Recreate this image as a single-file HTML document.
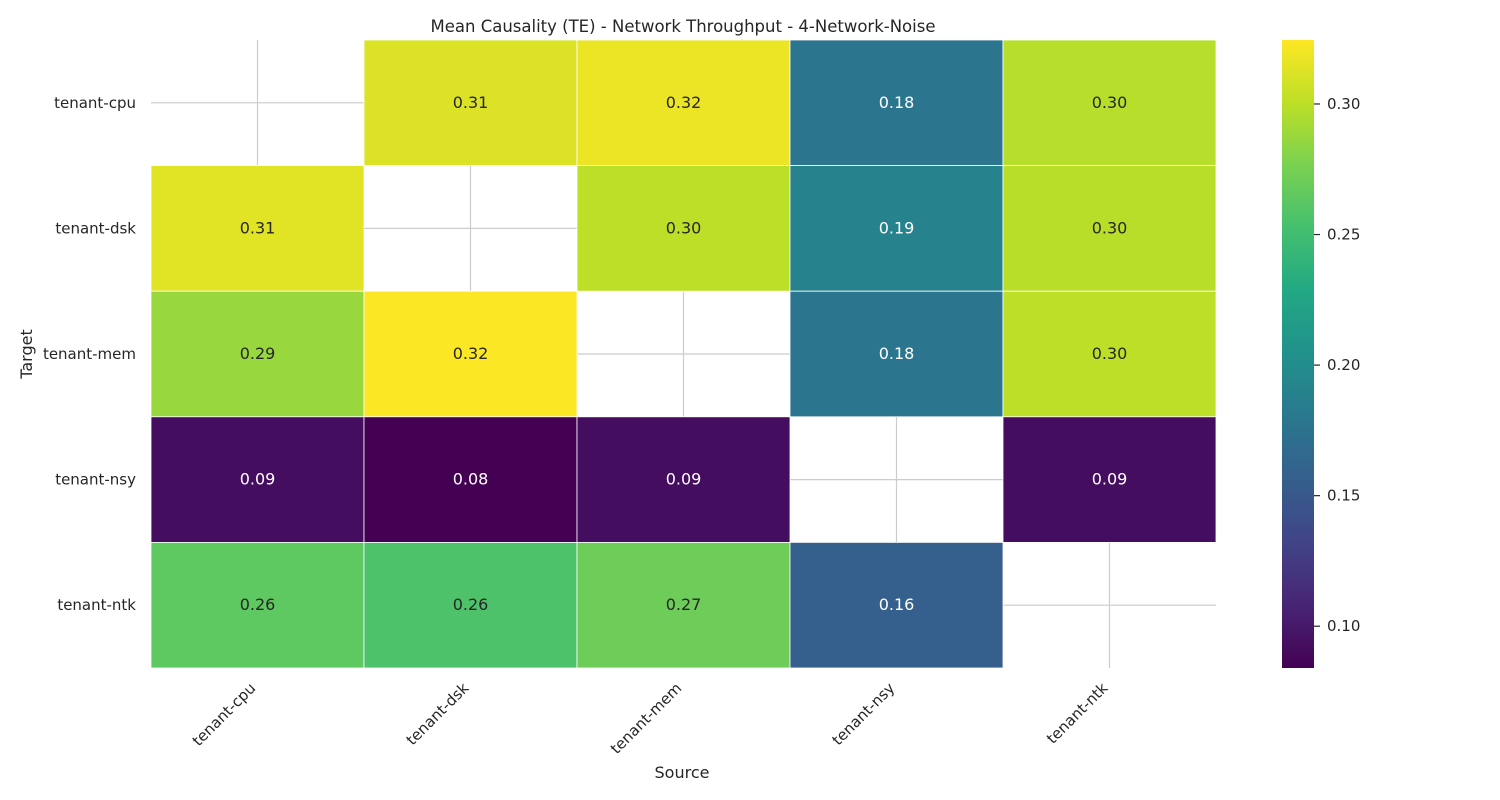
<!DOCTYPE html>
<html><head><meta charset="utf-8"><style>
html,body{margin:0;padding:0;background:#fff;}
svg{display:block;font-family:"DejaVu Sans","Liberation Sans",sans-serif;}
</style></head><body>
<svg id="chart" width="1500" height="800">
<text x="683" y="32" text-anchor="middle" font-size="16.5" fill="#262626">Mean Causality (TE) - Network Throughput - 4-Network-Noise</text>
<text x="682" y="778" text-anchor="middle" font-size="16" fill="#262626">Source</text>
<text transform="translate(32,354) rotate(-90)" text-anchor="middle" font-size="16" fill="#262626">Target</text>
<g id="grid"></g><g id="cells"></g><g id="xt"></g><g id="yt"></g><g id="cbar"></g>
</svg>
<script>
const sources = ["tenant-cpu","tenant-dsk","tenant-mem","tenant-nsy","tenant-ntk"];
const targets = ["tenant-cpu","tenant-dsk","tenant-mem","tenant-nsy","tenant-ntk"];
const row_cpu = [null,0.312,0.318,0.178,0.298];
const row_dsk = [0.314,null,0.300,0.190,0.299];
const row_mem = [0.287,0.324,null,0.178,0.300];
const row_nsy = [0.092,0.084,0.092,null,0.092];
const row_ntk = [0.264,0.257,0.271,0.157,null];
const colorTicks = [0.10,0.15,0.20,0.25,0.30];
const vmin = 0.084, vmax = 0.3245;

const values = [row_cpu,row_dsk,row_mem,row_nsy,row_ntk];
const NS="http://www.w3.org/2000/svg";
const L=151,R=1216,T=40,B=668;
const cw=(R-L)/sources.length, ch=(B-T)/targets.length;
const xS=i=>L+i*cw, yS=j=>T+j*ch;
const vir=["#440154","#482475","#414487","#355f8d","#2a788e","#21918c","#22a884","#44bf70","#7ad151","#bddf26","#fde725"];
function hex(h){return [1,3,5].map(i=>parseInt(h.substr(i,2),16));}
function cmap(v){let t=Math.max(0,Math.min(1,(v-vmin)/(vmax-vmin)))*10;let i=Math.min(9,Math.floor(t)),f=t-i;
 const a=hex(vir[i]),b=hex(vir[i+1]);return a.map((c,k)=>Math.round(c+(b[k]-c)*f));}
function mk(tag,attrs,parent){const e=document.createElementNS(NS,tag);for(const k in attrs)e.setAttribute(k,attrs[k]);parent.appendChild(e);return e;}
const grid=document.getElementById('grid'),cells=document.getElementById('cells');
sources.forEach((s,i)=>{const l=mk('line',{x1:xS(i)+cw/2,x2:xS(i)+cw/2,y1:T,y2:B,stroke:'#cccccc','stroke-width':1.2},grid);

});
targets.forEach((t,j)=>{const l=mk('line',{x1:L,x2:R,y1:yS(j)+ch/2,y2:yS(j)+ch/2,stroke:'#cccccc','stroke-width':1.2},grid);

});
values.forEach((row,j)=>row.forEach((v,i)=>{if(v===null)return;const c=cmap(v);
 const r=mk('rect',{x:xS(i),y:yS(j),width:cw,height:ch,fill:`rgb(${c})`,stroke:'#fff','stroke-width':0.8},cells);
 
 
 const lum=(0.2126*c[0]+0.7152*c[1]+0.0722*c[2])/255;
 const tx=mk('text',{x:xS(i)+cw/2,y:yS(j)+ch/2+5,'text-anchor':'middle','font-size':16,fill:lum>0.45?'#262626':'#ffffff'},cells);
 tx.textContent=v.toFixed(2);
 
 }));
const xt=document.getElementById('xt'),yt=document.getElementById('yt');
sources.forEach((s,i)=>{const x=xS(i)+cw/2;const t=mk('text',{transform:`translate(${x-1},${B+21}) rotate(-45)`,'text-anchor':'end','font-size':15,fill:'#262626'},xt);
t.textContent=s;

});
targets.forEach((s,j)=>{const t=mk('text',{x:136,y:yS(j)+ch/2+5,'text-anchor':'end','font-size':15,fill:'#262626'},yt);
t.textContent=s;

});
const cb=document.getElementById('cbar');
const CX=1282,CW=32;
const defs=mk('defs',{},cb);const g=mk('linearGradient',{id:'vg',x1:0,y1:1,x2:0,y2:0},defs);
vir.forEach((c,k)=>mk('stop',{offset:k/10,'stop-color':c},g));
const cr=mk('rect',{x:CX,y:T,width:CW,height:B-T,fill:'url(#vg)'},cb);


const cy=v=>B-(v-vmin)/(vmax-vmin)*(B-T);
colorTicks.forEach(v=>{const y=cy(v);mk('line',{x1:CX+CW,x2:CX+CW+6,y1:y,y2:y,stroke:'#262626','stroke-width':1.2},cb);
const t=mk('text',{x:CX+CW+13,y:y+5,'font-size':15,fill:'#262626'},cb);t.textContent=v.toFixed(2);

});
</script>
</body></html>
